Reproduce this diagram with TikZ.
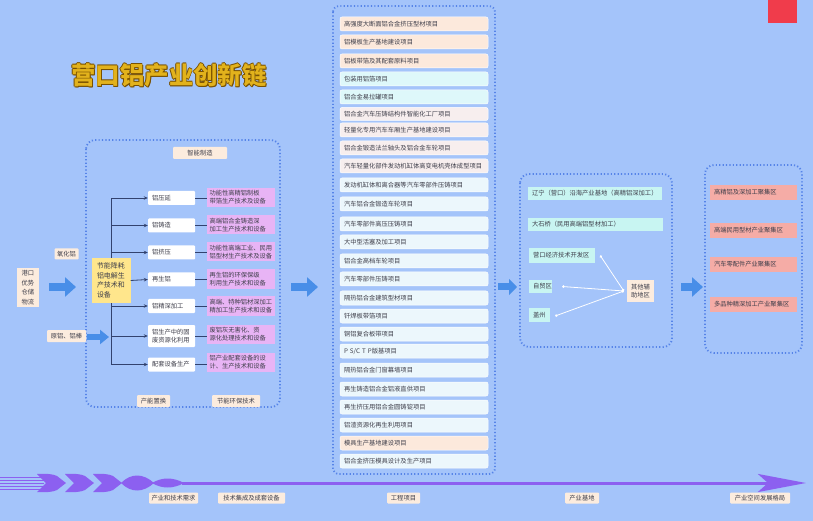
\documentclass[tikz,border=0pt]{standalone}
\usepackage{fontspec}
\setmainfont{Noto Sans CJK SC}
\usetikzlibrary{arrows.meta}
\definecolor{bgblue}{RGB}{164,196,250}
\definecolor{boxblue}{RGB}{86,132,232}
\definecolor{arrblue}{RGB}{72,142,232}
\definecolor{peach}{RGB}{252,236,222}
\definecolor{pch}{RGB}{252,233,220}
\definecolor{cyl}{RGB}{222,248,250}
\definecolor{pnk}{RGB}{247,238,238}
\definecolor{wcy}{RGB}{236,247,252}
\definecolor{mag}{RGB}{232,180,245}
\definecolor{yel}{RGB}{255,230,140}
\definecolor{cyanb}{RGB}{200,245,242}
\definecolor{salmon}{RGB}{245,172,166}
\definecolor{txt}{RGB}{62,62,74}
\definecolor{navy}{RGB}{50,66,110}
\definecolor{purp}{RGB}{140,96,240}
\definecolor{gold}{RGB}{226,178,28}
\definecolor{goldsh}{RGB}{120,80,0}
\definecolor{badge}{RGB}{240,60,75}
\newcommand\cnf{\fontsize{6.3}{7.8}\selectfont}
\newcommand\cnfb{\fontsize{6.3}{9.6}\selectfont}
\newcommand\ttlf{\fontsize{24.5}{26}\selectfont\bfseries}
\tikzset{
  lbl/.style={fill=peach, minimum height=12bp, rounded corners=1bp},
  wbox/.style={fill=white, text width=39bp, inner xsep=4bp, align=left, minimum height=14bp, rounded corners=1bp},
  mbox/.style={fill=mag, text width=63bp, inner xsep=2.5bp, align=left, minimum height=19bp},
  item/.style={text width=140bp, inner xsep=4bp, align=left, minimum height=14bp, rounded corners=2bp, draw=white, line width=0.5bp},
  rbox/.style={fill=cyanb, inner xsep=4bp, align=left, minimum height=13bp},
  fbox/.style={fill=salmon, text width=79bp, inner xsep=4bp, align=left, minimum height=15bp},
  dotbox/.style={draw=boxblue, line width=1.8bp, dash pattern=on 1.2bp off 2.2bp, rounded corners=9bp},
  tree/.style={draw=navy, line width=0.8bp},
  treearr/.style={tree, -{Stealth[length=4bp,width=3.5bp]}},
  bigarr/.style={draw=arrblue, line width=8bp, -{Triangle[length=11bp,width=19bp]}},
  smallarr/.style={draw=arrblue, line width=6bp, -{Triangle[length=9bp,width=14bp]}},
  wline/.style={draw=white, line width=0.8bp, {Circle[length=2.5bp]}-{Circle[length=2.5bp]}},
  ttlsh/.style={font=\ttlf, text=goldsh},
}
\begin{document}
\begin{tikzpicture}[x=1bp,y=-1bp, every node/.style={font=\cnf, text=txt, inner sep=0pt}]
\useasboundingbox (0,0) rectangle (813,521);
\fill[bgblue] (0,0) rectangle (813,521);

% badge
\fill[badge] (768,0) rectangle (797,23);

% title (outline made of offset copies)
\node[ttlsh] (tsa) at (169.7,75.5) {营口铝产业创新链};
\node[ttlsh] (tsb) at (168.3,75.5) {营口铝产业创新链};
\node[ttlsh] (tsc) at (169,76.2) {营口铝产业创新链};
\node[ttlsh] (tsd) at (169,74.8) {营口铝产业创新链};
\node[ttlsh] (tse) at (169.9,76.4) {营口铝产业创新链};
\node[font=\ttlf, text=gold] (title) at (169,75.5) {营口铝产业创新链};

% dotted boxes
\draw[dotbox] (86,140) rectangle (280,407);
\draw[dotbox, rounded corners=6bp] (333,6) rectangle (495,474);
\draw[dotbox] (520,174) rectangle (672,347);
\draw[dotbox] (705,165) rectangle (802,353);

% left inputs
\node[fill=peach, minimum width=22bp, minimum height=39bp, align=center, font=\cnfb] (port) at (28,287.5) {港口\\优势\\仓储\\物流};
\node[lbl, minimum width=24bp, minimum height=11bp] (oxide) at (66.5,254) {氧化铝};
\node[lbl, minimum width=39bp] (raw) at (66.5,336) {原铝、铝棒};
\coordinate (a1s) at (49,287); \coordinate (a1e) at (76,287);
\draw[bigarr] (a1s) -- (a1e);
\coordinate (a2s) at (87,337); \coordinate (a2e) at (109,337);
\draw[smallarr] (a2s) -- (a2e);

% left box content
\node[lbl, minimum width=54bp] (smart) at (200,153) {智能制造};
\node[lbl, minimum width=33bp] (cap1) at (153.5,401) {产能置换};
\node[lbl, minimum width=48bp] (cap2) at (236,401) {节能环保技术};

\node[fill=yel, text width=28bp, inner xsep=5.5bp, minimum height=45bp, align=left, font=\fontsize{7}{9.6}\selectfont] (yb) at (111,280.5) {节能降耗\\铝电解生\\产技术和\\设备};

\node[wbox] (w1) at (171.5,198) {铝压延};
\node[wbox] (w2) at (171.5,225.5) {铝铸造};
\node[wbox] (w3) at (171.5,252.5) {铝挤压};
\node[wbox] (w4) at (171.5,279.5) {再生铝};
\node[wbox] (w5) at (171.5,306) {铝精深加工};
\node[wbox, minimum height=22bp] (w6) at (171.5,336) {铝生产中的固\\废资源化利用};
\node[wbox] (w7) at (171.5,364.5) {配套设备生产};

\node[mbox] (m1) at (241,197.5) {功能性高精铝制板\\带箔生产技术及设备};
\node[mbox] (m2) at (241,225) {高端铝合金铸造深\\加工生产技术和设备};
\node[mbox] (m3) at (241,252) {功能性高端工业、民用\\铝型材生产技术及设备};
\node[mbox] (m4) at (241,279) {再生铝的环保保级\\利用生产技术和设备};
\node[mbox] (m5) at (241,306) {高端、特种铝材深加工\\精加工生产技术和设备};
\node[mbox] (m6) at (241,334) {废铝灰无害化、资\\源化处理技术和设备};
\node[mbox] (m7) at (241,362.5) {铝产业配套设备的设\\计、生产技术和设备};

\draw[treearr] (yb.north) |- (w1.west);
\draw[treearr] (yb.north) |- (w2.west);
\draw[treearr] (yb.north) |- (w3.west);
\draw[treearr] (yb.east) -- (w4.west);
\draw[treearr] (yb.south) |- (w5.west);
\draw[treearr] (yb.south) |- (w6.west);
\draw[treearr] (yb.south) |- (w7.west);
\foreach \i in {1,...,7} {\draw[tree] (w\i.east) -- (w\i.east -| m\i.west);}

\coordinate (a3s) at (291,287); \coordinate (a3e) at (318,287);
\draw[bigarr] (a3s) -- (a3e);

% middle list
\node[item,fill=pch] (p1) at (414,24) {高强度大断面铝合金挤压型材项目};
\node[item,fill=pch] (p2) at (414,42) {铝模板生产基地建设项目};
\node[item,fill=pch] (p3) at (414,61) {铝板带箔及其配套原料项目};
\node[item,fill=cyl] (p4) at (414,79) {包装用铝箔项目};
\node[item,fill=cyl] (p5) at (414,97) {铝合金易拉罐项目};
\node[item,fill=pnk, minimum height=13bp] (p6) at (414,114) {铝合金汽车压铸结构件智能化工厂项目};
\node[item,fill=pnk] (p7) at (414,130) {轻量化专用汽车车厢生产基地建设项目};
\node[item,fill=pnk] (p8) at (414,148) {铝合金锻造法兰轴头及铝合金车轮项目};
\node[item,fill=pnk] (p9) at (414,166) {汽车轻量化部件发动机缸体高变电机壳体成型项目};
\node[item,fill=wcy] (p10) at (414,185) {发动机缸体和离合器等汽车零部件压铸项目};
\node[item,fill=wcy] (p11) at (414,204) {汽车铝合金锻造车轮项目};
\node[item,fill=wcy] (p12) at (414,224) {汽车零部件高压压铸项目};
\node[item,fill=wcy] (p13) at (414,242) {大中型活塞及加工项目};
\node[item,fill=wcy] (p14) at (414,261) {铝合金高档车轮项目};
\node[item,fill=wcy] (p15) at (414,279) {汽车零部件压铸项目};
\node[item,fill=wcy] (p16) at (414,298) {隔热铝合金建筑型材项目};
\node[item,fill=wcy] (p17) at (414,316) {钎焊板带箔项目};
\node[item,fill=wcy] (p18) at (414,334) {铜铝复合板带项目};
\node[item,fill=wcy] (p19) at (414,351) {P\hspace{2bp}S/C\hspace{2bp}T\hspace{2bp}P版基项目};
\node[item,fill=wcy] (p20) at (414,370) {隔热铝合金门窗幕墙项目};
\node[item,fill=wcy] (p21) at (414,389) {再生铸造铝合金铝液直供项目};
\node[item,fill=wcy] (p22) at (414,407) {再生挤压用铝合金圆铸锭项目};
\node[item,fill=wcy] (p23) at (414,425) {铝渣资源化再生利用项目};
\node[item,fill=pch] (p24) at (414,443) {模具生产基地建设项目};
\node[item,fill=wcy] (p25) at (414,461) {铝合金挤压模具设计及生产项目};

\coordinate (a4s) at (498,287); \coordinate (a4e) at (517,287);
\draw[draw=arrblue, line width=7bp, -{Triangle[length=8bp,width=16bp]}] (a4s) -- (a4e);

% right box
\node[rbox, text width=126bp] (r1) at (595,193.5) {辽宁（营口）沿海产业基地（高精铝深加工）};
\node[rbox, text width=127bp] (r2) at (595.5,224.5) {大石桥（民用高端铝型材加工）};
\node[rbox, text width=58bp, minimum height=15bp] (dev) at (562,255.5) {营口经济技术开发区};
\node[rbox, text width=15bp] (ftz) at (540.5,286.5) {自贸区};
\node[rbox, text width=13bp, minimum height=14bp] (gz) at (539.5,315) {盖州};
\node[fill=peach, text width=19bp, inner xsep=4bp, minimum height=22bp, align=left] (oth) at (640.5,291) {其他辅\\助地区};
\draw[wline] ([xshift=-3bp]oth.west) -- ([xshift=5bp]dev.east);
\draw[wline] ([xshift=-3bp]oth.west) -- ([xshift=10bp]ftz.east);
\draw[wline] ([xshift=-3bp]oth.west) -- ([xshift=5bp,yshift=-1bp]gz.east);

\coordinate (a5s) at (681,287); \coordinate (a5e) at (703,287);
\draw[bigarr] (a5s) -- (a5e);

% far right
\node[fbox] (f1) at (753.5,192.5) {高精铝及深加工聚集区};
\node[fbox] (f2) at (753.5,230.5) {高端民用型材产业聚集区};
\node[fbox] (f3) at (753.5,264.5) {汽车零配件产业聚集区};
\node[fbox] (f4) at (753.5,304.5) {多品种精深加工产业聚集区};

% timeline
\foreach \yy in {477,480,483,486,489} {\draw[purp, line width=1bp] (0,\yy) -- (44,\yy);}
\foreach \xx in {37,65,93} {
  \fill[purp] (\xx,474) .. controls (\xx+10,473.5) and (\xx+16,474) .. (\xx+20,476)
    -- (\xx+29,483) -- (\xx+20,490) .. controls (\xx+16,492) and (\xx+10,492.5) .. (\xx,492)
    -- (\xx+9,483) -- cycle;}
\fill[purp] (121,483) .. controls (131,473) and (143,473) .. (154,483) .. controls (143,493) and (131,493) .. (121,483);
\fill[purp] (152,483) .. controls (162,477) and (173,477) .. (184,483) .. controls (173,489) and (162,489) .. (152,483);
\draw[purp, line width=3bp, -{Stealth[length=48bp,width=18bp,inset=10bp]}] (182,483) -- (806,483);

\node[lbl, minimum width=49bp, minimum height=11bp] (t1) at (173.5,498) {产业和技术需求};
\node[lbl, minimum width=67bp, minimum height=11bp] (t2) at (251.5,498) {技术集成及成套设备};
\node[lbl, minimum width=33bp, minimum height=11bp] (t3) at (403.5,498) {工程项目};
\node[lbl, minimum width=34bp, minimum height=11bp] (t4) at (582,498) {产业基地};
\node[lbl, minimum width=60bp, minimum height=11bp] (t5) at (760,498) {产业空间发展格局};
\end{tikzpicture}
\end{document}
